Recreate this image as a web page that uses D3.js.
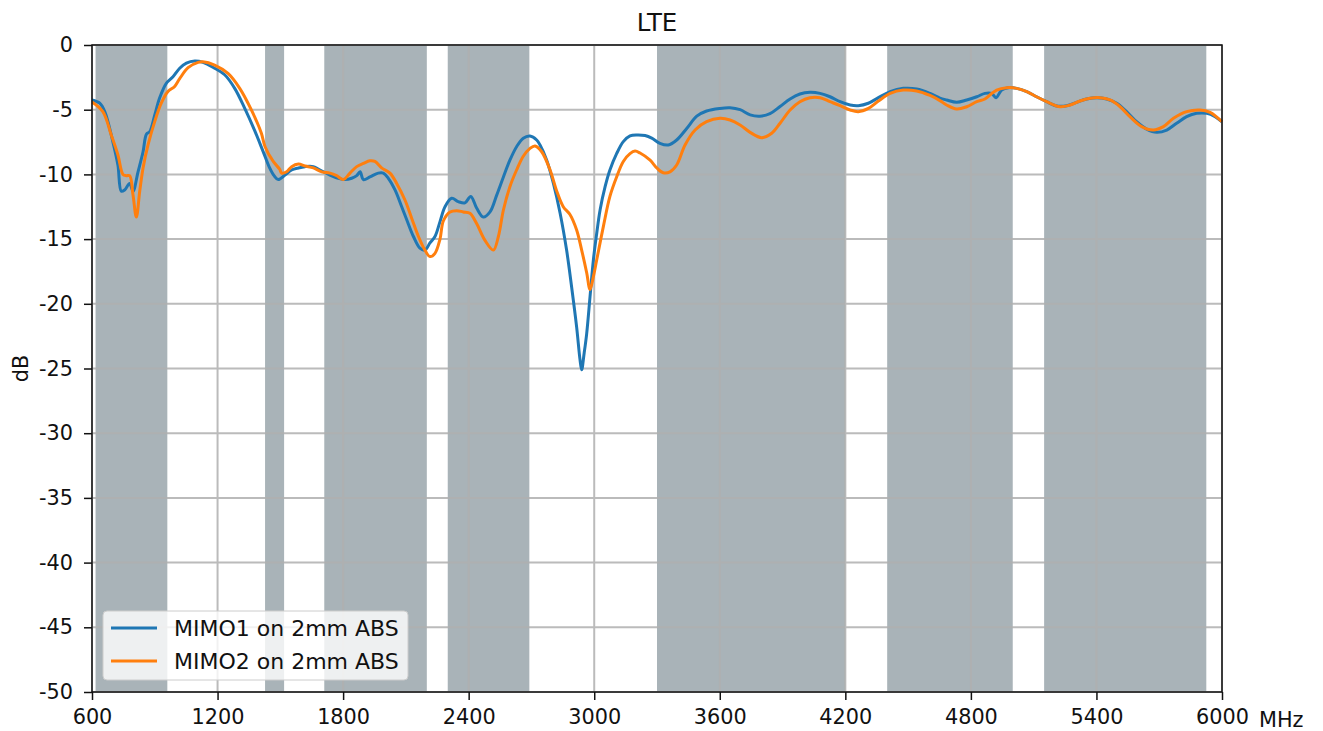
<!DOCTYPE html>
<html lang="en">
<head>
  <meta charset="utf-8">
  <title>LTE</title>
  <style>
    body { margin: 0; background: #fff; }
    text { font-family: "DejaVu Sans", sans-serif; fill: #111; }
  </style>
</head>
<body>
  <script src="https://cdn.jsdelivr.net/npm/d3@7"></script>
  <script>
    var width = 1323;
    var height = 731;

    // LTE bands (MHz) shaded in grey
    var bands = [[617, 960], [1427, 1518], [1710, 2200], [2300, 2690], [3300, 4200], [4400, 5000], [5150, 5925]];

    var xTicks = [600, 1200, 1800, 2400, 3000, 3600, 4200, 4800, 5400, 6000];
    var yTicks = [0, -5, -10, -15, -20, -25, -30, -35, -40, -45, -50];

    // MIMO1 on 2mm ABS : [MHz, dB]
    var mimo1 = [
      [600, -4.25], [637, -4.5], [661, -5.15], [700, -7.5], [724, -9.3], [740, -11.3], [756, -11.2],
      [780, -10.7], [796, -11.3], [820, -9.8], [844, -8.25], [860, -6.9], [876, -6.7], [900, -5.4],
      [923, -4.1], [955, -2.96], [987, -2.45], [1019, -1.8], [1051, -1.4], [1091, -1.24], [1130, -1.34],
      [1186, -1.8], [1234, -2.3], [1282, -3.35], [1330, -4.9], [1377, -6.6], [1417, -8.2], [1449, -9.5],
      [1470, -10.1], [1490, -10.4], [1522, -10.05], [1554, -9.66], [1586, -9.5], [1618, -9.4], [1658, -9.4],
      [1690, -9.66], [1737, -10.05], [1777, -10.3], [1809, -10.4], [1841, -10.3], [1865, -10.1], [1881, -9.8],
      [1897, -10.4], [1928, -10.2], [1968, -9.9], [1992, -9.9], [2016, -10.3], [2048, -11.2], [2080, -12.5],
      [2104, -13.5], [2136, -14.8], [2167, -15.7], [2191, -15.85], [2215, -15.3], [2239, -14.8], [2263, -13.65],
      [2287, -12.5], [2319, -11.85], [2350, -12.1], [2382, -12.2], [2410, -11.7], [2438, -12.6], [2470, -13.3],
      [2502, -12.9], [2534, -11.6], [2566, -10.2], [2597, -8.9], [2629, -7.86], [2661, -7.2], [2693, -7.03],
      [2725, -7.34], [2741, -7.73], [2773, -8.9], [2805, -10.7], [2837, -13.0], [2868, -15.85], [2892, -18.7],
      [2916, -21.8], [2932, -24.3], [2940, -25.1], [2952, -23.8], [2964, -22.3], [2980, -19.45], [2996, -16.6],
      [3012, -14.55], [3028, -12.75], [3052, -10.95], [3075, -9.66], [3107, -8.4], [3139, -7.47], [3171, -7.03],
      [3203, -6.95], [3243, -7.0], [3275, -7.2], [3314, -7.6], [3354, -7.73], [3394, -7.34], [3442, -6.45],
      [3490, -5.5], [3537, -5.1], [3601, -4.9], [3649, -4.85], [3697, -5.0], [3745, -5.4], [3792, -5.5],
      [3840, -5.3], [3888, -4.75], [3936, -4.17], [3983, -3.79], [4031, -3.66], [4079, -3.74], [4127, -4.0],
      [4175, -4.38], [4223, -4.64], [4262, -4.69], [4310, -4.5], [4358, -4.07], [4414, -3.6], [4477, -3.35],
      [4541, -3.4], [4605, -3.74], [4652, -4.1], [4684, -4.25], [4732, -4.43], [4780, -4.25], [4828, -4.0],
      [4867, -3.74], [4899, -3.74], [4920, -4.07], [4947, -3.48], [4979, -3.3], [5019, -3.35], [5067, -3.6],
      [5114, -4.0], [5162, -4.38], [5210, -4.71], [5258, -4.69], [5305, -4.43], [5353, -4.17], [5401, -4.07],
      [5449, -4.17], [5497, -4.5], [5544, -5.15], [5592, -5.93], [5640, -6.5], [5688, -6.75], [5736, -6.57],
      [5783, -6.05], [5831, -5.54], [5879, -5.28], [5927, -5.28], [5967, -5.54], [6000, -5.93]
    ];

    // MIMO2 on 2mm ABS : [MHz, dB]
    var mimo2 = [
      [600, -4.4], [652, -5.15], [692, -6.95], [724, -8.5], [748, -10.0], [764, -10.1], [780, -10.1],
      [796, -11.6], [812, -13.3], [828, -11.3], [844, -9.5], [868, -7.7], [900, -5.9], [931, -4.5],
      [963, -3.6], [995, -3.2], [1019, -2.6], [1059, -1.75], [1107, -1.34], [1130, -1.3], [1186, -1.55],
      [1250, -2.2], [1306, -3.35], [1361, -5.0], [1409, -6.8], [1427, -7.86], [1466, -9.0], [1497, -9.6],
      [1506, -9.9], [1530, -9.8], [1554, -9.4], [1586, -9.2], [1618, -9.35], [1658, -9.5], [1698, -9.8],
      [1737, -9.9], [1769, -10.1], [1801, -10.4], [1833, -9.9], [1865, -9.4], [1897, -9.15], [1928, -8.95],
      [1952, -9.0], [1984, -9.5], [2024, -9.9], [2056, -10.7], [2096, -12.0], [2128, -13.4], [2160, -14.8],
      [2191, -15.85], [2215, -16.35], [2239, -16.1], [2263, -15.0], [2279, -13.6], [2311, -12.9], [2343, -12.8],
      [2374, -12.9], [2406, -13.0], [2438, -13.8], [2478, -15.1], [2518, -15.85], [2542, -14.8], [2566, -12.75],
      [2597, -10.95], [2629, -9.66], [2661, -8.6], [2693, -7.99], [2717, -7.8], [2749, -8.25], [2789, -9.66],
      [2821, -11.3], [2852, -12.5], [2884, -13.1], [2916, -14.3], [2940, -15.85], [2964, -17.6], [2980, -18.9],
      [2996, -17.9], [3012, -16.6], [3044, -14.0], [3075, -11.7], [3107, -10.2], [3139, -9.0], [3171, -8.4],
      [3195, -8.2], [3219, -8.35], [3267, -8.9], [3299, -9.5], [3330, -9.87], [3362, -9.8], [3394, -9.27],
      [3434, -7.73], [3482, -6.57], [3537, -5.93], [3601, -5.67], [3649, -5.8], [3697, -6.18], [3745, -6.75],
      [3800, -7.16], [3848, -6.82], [3888, -6.05], [3936, -5.02], [3983, -4.38], [4031, -4.07], [4079, -4.07],
      [4127, -4.38], [4175, -4.69], [4223, -5.02], [4262, -5.15], [4310, -4.9], [4358, -4.33], [4414, -3.74],
      [4477, -3.48], [4541, -3.55], [4605, -3.9], [4652, -4.3], [4684, -4.64], [4732, -4.95], [4780, -4.77],
      [4828, -4.38], [4867, -4.17], [4891, -3.86], [4923, -3.48], [4971, -3.3], [5019, -3.35], [5067, -3.6],
      [5114, -4.0], [5162, -4.38], [5226, -4.77], [5274, -4.64], [5321, -4.33], [5369, -4.12], [5417, -4.07],
      [5465, -4.25], [5513, -4.77], [5560, -5.54], [5616, -6.31], [5672, -6.57], [5720, -6.31], [5768, -5.67],
      [5831, -5.15], [5895, -5.02], [5943, -5.2], [6000, -5.93]
    ];

    var seriesNames = ["MIMO1 on 2mm ABS", "MIMO2 on 2mm ABS"];
    var seriesColors = ["#1f77b4", "#ff7f0e"];

    var padLeft = 92, padRight = 1222, padTop = 45, padBottom = 692;

    var svg = d3.select("body").append("svg")
      .attr("width", width)
      .attr("height", height);

    var xScale = d3.scaleLinear().domain([600, 6000]).range([padLeft, padRight]);
    var yScale = d3.scaleLinear().domain([-50, 0]).range([padBottom, padTop]);

    // shaded bands
    svg.append("g").selectAll("rect")
      .data(bands)
      .enter()
      .append("rect")
      .attr("x", function(d) { return xScale(d[0]); })
      .attr("y", padTop)
      .attr("width", function(d) { return xScale(d[1]) - xScale(d[0]); })
      .attr("height", padBottom - padTop)
      .attr("fill", "#a9b3b8");

    // grid on top of bands
    var grid = svg.append("g").attr("stroke", "#b0b0b0").attr("stroke-width", 2).attr("opacity", 0.85);
    grid.selectAll(".vx")
      .data(xTicks)
      .enter()
      .append("line")
      .attr("x1", function(d) { return xScale(d); })
      .attr("x2", function(d) { return xScale(d); })
      .attr("y1", padTop)
      .attr("y2", padBottom);
    grid.selectAll(".hy")
      .data(yTicks)
      .enter()
      .append("line")
      .attr("x1", padLeft)
      .attr("x2", padRight)
      .attr("y1", function(d) { return yScale(d); })
      .attr("y2", function(d) { return yScale(d); });

    var line = d3.line()
      .x(function(d) { return xScale(d[0]); })
      .y(function(d) { return yScale(d[1]); })
      .curve(d3.curveCatmullRom.alpha(0.5));

    [mimo1, mimo2].forEach(function(s, i) {
      svg.append("path")
        .datum(s)
        .attr("fill", "none")
        .attr("stroke", seriesColors[i])
        .attr("stroke-width", 3)
        .attr("stroke-linejoin", "round")
        .attr("d", line);
    });

    // axes
    var xAxis = d3.axisBottom(xScale).tickValues(xTicks).tickSize(8).tickPadding(9)
      .tickFormat(d3.format("d"));
    var yAxis = d3.axisLeft(yScale).tickValues(yTicks).tickSize(8).tickPadding(11)
      .tickFormat(function(d) { return d === 0 ? "0" : "-" + Math.abs(d); });

    var gx = svg.append("g")
      .attr("transform", "translate(0," + padBottom + ")")
      .call(xAxis);
    var gy = svg.append("g")
      .attr("transform", "translate(" + padLeft + ",0)")
      .call(yAxis);
    [gx, gy].forEach(function(g) {
      g.attr("font-size", 20.8).attr("font-family", "DejaVu Sans");
      g.select(".domain").remove();
      g.selectAll("line").attr("stroke", "#111").attr("stroke-width", 1.5);
      g.selectAll("text").attr("fill", "#111");
    });

    // frame
    svg.append("rect")
      .attr("x", padLeft).attr("y", padTop)
      .attr("width", padRight - padLeft).attr("height", padBottom - padTop)
      .attr("fill", "none").attr("stroke", "#111").attr("stroke-width", 1.5);

    svg.append("text")
      .attr("x", (padLeft + padRight) / 2).attr("y", 31)
      .attr("text-anchor", "middle").attr("font-size", 24.5)
      .text("LTE");

    svg.append("text")
      .attr("transform", "translate(28," + ((padTop + padBottom) / 2) + ") rotate(-90)")
      .attr("text-anchor", "middle").attr("font-size", 20.8)
      .text("dB");

    svg.append("text")
      .attr("x", 1259).attr("y", 727)
      .attr("font-size", 20.8)
      .text("MHz");

    // legend
    var lg = svg.append("g").attr("transform", "translate(103,611)");
    lg.append("rect")
      .attr("width", 305).attr("height", 69).attr("rx", 4)
      .attr("fill", "#ffffff").attr("fill-opacity", 0.8)
      .attr("stroke", "#cccccc");
    seriesNames.forEach(function(n, i) {
      var yy = 17 + i * 33;
      lg.append("line")
        .attr("x1", 8).attr("x2", 54)
        .attr("y1", yy).attr("y2", yy)
        .attr("stroke", seriesColors[i]).attr("stroke-width", 3);
      lg.append("text")
        .attr("x", 71).attr("y", yy + 8)
        .attr("font-size", 22)
        .text(n);
    });
  </script>
</body>
</html>
